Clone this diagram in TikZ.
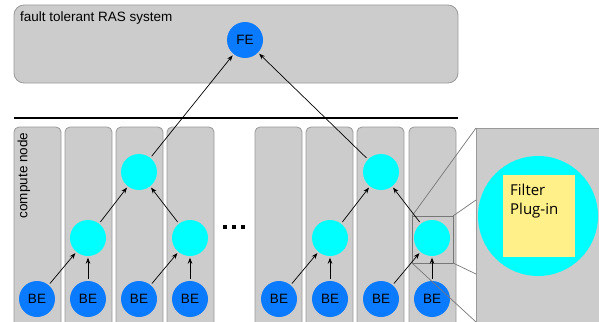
\documentclass[tikz,border=0pt]{standalone}
\usepackage{fontspec}
\setmainfont{Liberation Sans}
\newfontfamily\plugfont{Open Sans}
\usetikzlibrary{arrows.meta}
\definecolor{boxgray}{HTML}{CCCCCC}
\definecolor{edgegray}{HTML}{999999}
\definecolor{linegray}{HTML}{777777}
\definecolor{beblue}{HTML}{0A7AFF}
\definecolor{aggcyan}{HTML}{00FFFF}
\definecolor{plugyellow}{HTML}{FFF08A}
\tikzset{
  panel/.style={draw=edgegray, fill=boxgray, line width=0.8pt, rounded corners=5pt},
  bigpanel/.style={draw=edgegray, fill=boxgray, line width=0.8pt, rounded corners=10pt},
  benode/.style={circle, fill=beblue, minimum size=36pt, inner sep=0pt, font=\fontsize{13.5}{16}\selectfont},
  aggnode/.style={circle, fill=aggcyan, minimum size=36pt, inner sep=0pt},
  flow/.style={-{Stealth[length=6pt,width=4.5pt]}, line width=0.7pt, shorten <=2pt, shorten >=1.5pt},
  zoomline/.style={draw=linegray, line width=0.7pt}
}
\begin{document}
\begin{tikzpicture}[x=1pt,y=-1pt]
\clip (0,0) rectangle (599,321);
\useasboundingbox (0,0) rectangle (599,321);
% top system box
\draw[bigpanel] (14,5) rectangle (458,83);
\node[anchor=north west, inner sep=0pt, font=\fontsize{13.5}{16}\selectfont] (ras) at (20,11.5) {fault tolerant RAS system};
% separator
\draw[line width=2pt] (14,118) -- (458,118);
% compute node columns
\foreach \x in {14,65,116,167,255,306,357,409} {
  \draw[panel] (\x,127) rectangle (\x+47,340);
}
\node[rotate=90, anchor=east, inner sep=0pt, font=\fontsize{13.5}{16}\selectfont] (cn) at (24,132.5) {compute node};
% dots
\foreach \x in {225,234,243} { \fill (\x-2.2,224.8) rectangle (\x+2.2,229.2); }
% magnified panel
\draw[draw=edgegray, fill=boxgray, line width=0.8pt] (476,128) rectangle (620,340);
\node[circle, fill=aggcyan, minimum size=120pt, inner sep=0pt] (bigagg) at (538,216) {};
\node[fill=plugyellow, minimum width=72pt, minimum height=82pt, inner sep=0pt] (plug) at (539,216) {};
\node[anchor=north west, align=left, inner sep=0pt, font=\plugfont\fontsize{15}{18.5}\selectfont] (plugtxt) at (510,184) {Filter\\Plug-in};
% nodes
\node[benode] (be1) at (37,299) {BE};
\node[benode] (be2) at (88,299) {BE};
\node[benode] (be3) at (139,299) {BE};
\node[benode] (be4) at (190,299) {BE};
\node[benode] (be5) at (279,299) {BE};
\node[benode] (be6) at (330,299) {BE};
\node[benode] (be7) at (381,299) {BE};
\node[benode] (be8) at (432,299) {BE};
\node[aggnode] (a1) at (88,238) {};
\node[aggnode] (a2) at (190,238) {};
\node[aggnode] (a3) at (330,238) {};
\node[aggnode] (a4) at (432,238) {};
\node[aggnode] (b1) at (139,172) {};
\node[aggnode] (b2) at (381,172) {};
\node[benode] (fe) at (245,40) {FE};
% magnifier frame
\coordinate (zr1) at (412,216);
\coordinate (zr2) at (453,263);
\draw[zoomline] (zr1) rectangle (zr2);
\draw[zoomline] (412,216) -- (476,128);
\draw[zoomline] (453,216) -- (476,200);
\draw[zoomline] (453,263) -- (476,274);
\draw[zoomline] (412,263) -- (476,322);
% arrows
\draw[flow] (be1) -- (a1);
\draw[flow] (be2) -- (a1);
\draw[flow] (be3) -- (a2);
\draw[flow] (be4) -- (a2);
\draw[flow] (be5) -- (a3);
\draw[flow] (be6) -- (a3);
\draw[flow] (be7) -- (a4);
\draw[flow] (be8) -- (a4);
\draw[flow] (a1) -- (b1);
\draw[flow] (a2) -- (b1);
\draw[flow] (a3) -- (b2);
\draw[flow] (a4) -- (b2);
\draw[flow] (b1) -- (fe);
\draw[flow] (b2) -- (fe);
\end{tikzpicture}
\end{document}
